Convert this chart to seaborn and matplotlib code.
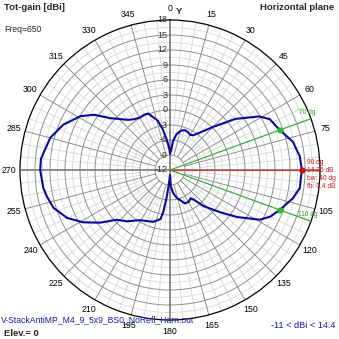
import numpy as np
import pandas as pd
import matplotlib
matplotlib.use("Agg")
import matplotlib.pyplot as plt
import seaborn as sns

# ---- data ----
angles_deg = [0, 3, 6, 10, 15, 20, 25, 30, 34, 38, 45, 52, 59, 63, 70, 77, 84, 90,
              98, 103, 110, 115, 119, 125, 130, 137, 141, 144, 150, 156, 161, 166,
              172, 177, 180, 182, 185, 187, 189, 191, 198, 211, 220, 227, 233, 239,
              245, 252, 258, 262, 270, 275, 285, 293, 301, 306, 311, 320, 325, 330,
              335, 339, 343, 346, 350, 354, 358, 360]
gain_dbi = [-8.7, -8.2, -6.2, -4.8, -3.9, -3.5, -3.6, -3.9, -3.6, -2.6, 0.2, 4.6, 8.8,
            10.4, 11.36, 13.2, 14.1, 14.36, 14.2, 13.2, 11.36, 10.1, 8.5, 4.4, 1.2,
            -2.1, -4.3, -5.0, -4.6, -4.7, -5.6, -6.2, -7.3, -8.7, -11.0, -10.5, -9.0,
            -6.5, -3.5, -2.0, -1.1, -0.3, 1.4, 2.6, 5.5, 8.3, 10.7, 12.5, 13.2, 13.6,
            13.96, 13.9, 12.8, 11.2, 8.9, 6.8, 3.8, 1.1, 0.4, 0.1, 0.2, 0.1, -1.1,
            -1.8, -3.8, -6.0, -7.7, -8.7]
ring_values = [18, 15, 12, 9, 6, 3, 0, -3, -6, -9, -12]
ring_labels = ["18", "15", "12", "9", "6", "3", "0", "-3", "-6", "-9", "-12"]
theta_ticks = list(range(0, 360, 15))
theta_labels = ["" if t == 90 else str(t) for t in theta_ticks]
max_dir, max_gain = 90, 14.36
bw_dirs, bw_gain = [70, 110], 11.36
bw_labels = ["70 dg", "110 dg"]
info_lines = ["90 dg", "14.36 dB", "bw: 40 dg", "fb: 0.4 dB"]
r_min, r_max = -12, 18

# ---- styling ----
sns.set_theme(style="white")
plt.rcParams["font.family"] = ["Liberation Sans", "DejaVu Sans"]

W = H = 339
fig = plt.figure(figsize=(3.39, 3.39), dpi=100)
fig.patch.set_facecolor("white")
R = 150
cx, cy = 170, 170
ax = fig.add_axes([(cx - R) / W, (H - cy - R) / H, 2 * R / W, 2 * R / H], projection="polar")
ax.set_facecolor("white")
ax.set_theta_zero_location("N")
ax.set_theta_direction(-1)
ax.set_ylim(r_min, r_max)
ax.grid(False)
ax.set_yticks([])

full = np.linspace(0, 2 * np.pi, 721)
# light rings (half steps)
for r in np.arange(r_min + 1.5, r_max, 3):
    ax.plot(full, np.full_like(full, r), color="#d8d8d8", lw=0.6, zorder=1)
# dark rings
for r in ring_values[1:-1]:
    ax.plot(full, np.full_like(full, r), color="#909090", lw=0.7, zorder=2)
# light radial lines every 5 deg
for t in range(0, 360, 5):
    if t % 15:
        ax.plot([np.deg2rad(t)] * 2, [-6, r_max], color="#d8d8d8", lw=0.6, zorder=1)
# dark radial lines every 15 deg
for t in range(0, 360, 15):
    if t % 90:
        ax.plot([np.deg2rad(t)] * 2, [-9, r_max], color="#909090", lw=0.7, zorder=2)
# main axes
for t in (0, 90, 180, 270):
    ax.plot([np.deg2rad(t)] * 2, [r_min, r_max], color="#6e6e6e", lw=1.1, zorder=3)

# beamwidth / max lines
for t in bw_dirs:
    ax.plot([np.deg2rad(t)] * 2, [r_min, r_max], color="#3cb043", lw=0.9, zorder=4)
ax.plot([np.deg2rad(max_dir)] * 2, [r_min, r_max], color="#c84040", lw=0.9, zorder=4)

# pattern
df = pd.DataFrame({"theta": np.deg2rad(angles_deg), "gain": gain_dbi})
sns.lineplot(data=df, x="theta", y="gain", sort=False, ax=ax, color="#0a0a9a",
             lw=1.5, zorder=6, estimator=None)
ax.set_xlabel("")
ax.set_ylabel("")

ax.scatter(np.deg2rad(bw_dirs), [bw_gain] * 2, s=12, color="#2db52d", zorder=7)
ax.scatter([np.deg2rad(max_dir)], [max_gain], s=12, color="#d01010", zorder=7)

ax.spines["polar"].set_color("black")
ax.spines["polar"].set_linewidth(0.9)

ax.set_xticks(np.deg2rad(theta_ticks))
ax.set_xticklabels(theta_labels, fontsize=6.3, color="black")
ax.tick_params(axis="x", pad=-5)
ax.set_ylim(r_min, r_max)

# ring labels along the 0-deg axis
for r, lab in zip(ring_values, ring_labels):
    ax.annotate(lab, xy=(0, r), xytext=(-2.0, 0), textcoords="offset points",
                ha="right", va="center", fontsize=6.5, color="#303030", zorder=8)


def ftext(px, py, s, **kw):
    fig.text(px / W, 1 - py / H, s, **kw)


ftext(4, 8, "Tot-gain [dBi]", fontsize=6.8, fontweight="bold", va="center", ha="left")
ftext(4, 30, "Freq=650", fontsize=6.2, va="center", ha="left")
ftext(334, 8, "Horizontal plane", fontsize=6.8, fontweight="bold", va="center", ha="right")
ftext(176, 12, "Y", fontsize=6.8, fontweight="bold", va="center", ha="left")
ftext(299, 112, bw_labels[0], fontsize=4.8, color="#2a9a2a", va="center", ha="left")
ftext(298, 214, bw_labels[1], fontsize=4.8, color="#2a9a2a", va="center", ha="left")
for i, s in enumerate(info_lines):
    ftext(307, 162 + 8.3 * i, s, fontsize=4.8, color="#c01818", va="center", ha="left")
ftext(1, 320, "V-StackAntiMP_M4_9_5x9_BS0_NoRefl_Harn.out", fontsize=6.2,
      color="#1a1aa0", va="center", ha="left")
ftext(4, 333, "Elev.= 0", fontsize=6.8, fontweight="bold", va="center", ha="left")
ftext(335, 325, "-11 < dBi < 14.4", fontsize=6.6, color="#1a1aa0", va="center", ha="right")

fig.savefig("out.png", dpi=100, facecolor="white")
